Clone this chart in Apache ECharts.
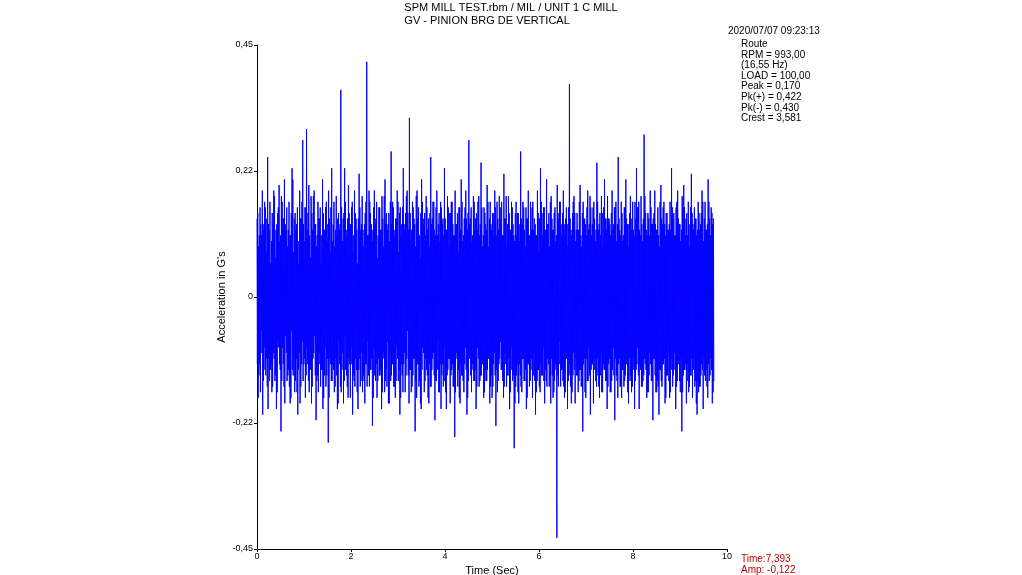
<!DOCTYPE html>
<html>
<head>
<meta charset="utf-8" />
<title>SPM waveform</title>
<script src="https://cdn.jsdelivr.net/npm/echarts@6/dist/echarts.min.js"></script>
<style>html,body{margin:0;background:#fff}#main{width:1022px;height:575px}</style>
</head>
<body>
<div id="main"></div>
<script>
// waveform amplitude in milli-G (first and second half)
var waveA = [
140,-180,90,-120,160,-60,110,-210,130,-90,170,-140,80,-160,250,-110,120,-130,60,-170,
150,-100,190,-150,70,-200,130,-80,160,-120,100,-240,180,-90,140,-160,210,-70,120,-150,
90,-130,170,-190,110,-60,230,-140,80,-170,150,-110,130,-210,60,-100,190,-160,140,-80,
280,-120,100,-180,160,-90,120,-150,200,-130,70,-190,150,-110,180,-70,130,-220,90,-140,
170,-100,140,-160,60,-130,210,-180,120,-90,160,-140,100,-260,190,-110,80,-150,230,-120,
130,-170,90,-110,180,-200,140,-80,120,-160,370,-130,100,-190,150,-70,170,-140,110,-180,
200,-120,130,-90,160,-210,80,-150,190,-110,140,-170,60,-130,220,-160,120,-100,180,-140,
90,-190,150,-120,420,-80,110,-160,170,-130,130,-230,100,-90,190,-150,140,-180,70,-110,
160,-140,120,-200,180,-100,90,-170,210,-130,150,-80,130,-190,100,-150,260,-120,170,-160,
110,-180,140,-90,190,-150,80,-210,160,-120,130,-170,230,-100,120,-140,180,-60,150,-190,
320,-130,100,-160,170,-110,140,-240,90,-180,190,-120,160,-150,70,-200,210,-90,130,-170,
150,-110,180,-140,120,-190,90,-160,250,-130,140,-100,170,-220,110,-150,190,-80,130,-170,
100,-200,160,-120,140,-90,230,-170,120,-140,180,-110,90,-190,150,-130,170,-160,110,-250,
190,-100,130,-160,80,-180,160,-120,210,-140,100,-170,140,-90,190,-210,120,-150,280,-110,
140,-170,100,-130,180,-150,120,-200,150,-90,170,-160,110,-140,240,-120,90,-180,160,-130
];
var waveB = [
130,-150,200,-110,90,-190,170,-140,120,-160,150,-100,190,-230,110,-170,140,-120,180,-80,
160,-130,110,-180,220,-100,140,-160,90,-140,180,-200,120,-90,170,-150,130,-270,100,-160,
170,-120,150,-190,100,-140,260,-170,130,-110,160,-150,90,-200,140,-120,190,-160,110,-130,
120,-180,170,-100,140,-210,110,-150,190,-130,80,-170,230,-140,150,-90,160,-190,120,-150,
210,-110,130,-160,90,-190,180,-140,120,-170,150,-120,100,-430,200,-160,140,-80,170,-130,
110,-150,190,-180,130,-110,160,-200,90,-140,380,-160,120,-170,150,-100,180,-190,100,-140,
150,-170,120,-130,200,-160,90,-240,170,-110,140,-180,110,-150,190,-90,130,-210,160,-120,
130,-190,170,-110,100,-160,240,-140,120,-180,150,-100,180,-170,90,-130,210,-150,140,-200,
180,-120,140,-170,110,-150,190,-90,130,-220,160,-140,100,-180,250,-110,120,-160,170,-130,
100,-160,160,-140,210,-120,130,-190,90,-150,180,-170,140,-110,120,-200,170,-130,230,-90,
160,-200,120,-130,180,-160,100,-140,290,-120,150,-180,110,-170,140,-100,190,-150,130,-220,
140,-110,190,-170,120,-150,160,-210,90,-130,200,-160,130,-120,170,-190,110,-140,150,-100,
120,-180,170,-130,230,-160,140,-100,110,-200,160,-150,190,-120,130,-170,100,-240,180,-140,
200,-130,110,-190,150,-120,170,-160,90,-140,220,-180,130,-110,160,-150,140,-210,120,-170,
150,-160,130,-120,190,-200,100,-140,170,-130,120,-180,210,-150,140,-110,160,-190,130,-150
];
// extra fine detail between the samples above, same halves
var detailA = [
-120,150,-140,110,-170,130,-100,190,-150,120,-130,160,-110,140,-200,130,-150,170,-120,100,
-160,130,-110,180,-140,120,-170,150,-90,200,-130,110,-150,170,-120,140,-190,130,-100,160,
-140,120,-160,110,-180,150,-130,210,-110,140,-150,120,-170,160,-130,100,-190,140,-120,170,
-150,130,-110,160,-140,300,-120,150,-170,110,-130,180,-160,120,-100,190,-140,130,-150,110,
-170,140,-120,160,-130,110,-200,150,-140,120,-160,170,-110,130,-180,140,-120,160,-150,100,
-130,170,-160,120,-140,110,-190,150,-120,130,-170,160,-100,140,-150,230,-130,120,-160,140,
-110,150,-180,130,-120,170,-140,110,-160,150,-130,120,-200,140,-110,160,-150,130,-170,120,
-150,130,-120,170,-160,110,-140,190,-130,150,-110,120,-180,160,-140,130,-120,170,-150,110,
-140,160,-130,120,-170,140,-110,180,-150,130,-160,120,-190,150,-100,170,-140,130,-120,160,
-160,120,-150,140,-110,170,-130,150,-180,110,-140,160,-120,130,-170,150,-110,190,-140,120,
-130,150,-170,120,-140,160,-110,130,-150,180,-120,140,-160,110,-190,150,-130,170,-100,140,
-150,110,-130,160,-180,140,-120,150,-160,130,-110,170,-140,120,-150,160,-130,110,-170,150,
-120,170,-140,130,-160,110,-150,140,-200,120,-130,160,-110,150,-140,170,-120,130,-160,110,
-170,130,-110,150,-130,160,-190,120,-140,170,-150,110,-120,160,-130,140,-180,150,-110,130,
-140,160,-120,110,-150,170,-130,140,-160,120,-110,180,-150,130,-140,160,-120,110,-170,150
];
var detailB = [
-150,120,-130,170,-110,140,-160,130,-180,150,-120,110,-140,160,-130,170,-150,120,-110,140,
-130,170,-150,110,-160,140,-120,180,-140,130,-110,150,-170,120,-130,160,-140,110,-190,150,
-140,110,-170,150,-120,130,-160,140,-110,170,-150,120,-130,160,-180,140,-120,110,-150,170,
-110,160,-140,120,-150,130,-170,110,-130,150,-160,140,-120,170,-140,110,-150,160,-130,120,
-160,130,-120,150,-140,170,-110,140,-180,120,-150,160,-130,110,-140,150,-120,170,-160,130,
-130,150,-160,120,-170,140,-110,130,-150,160,-120,140,-190,110,-140,170,-130,150,-110,120,
-140,120,-150,170,-130,110,-160,150,-120,140,-170,130,-110,160,-150,120,-140,180,-130,110,
-120,160,-130,140,-150,120,-110,170,-160,130,-140,110,-170,150,-120,160,-130,140,-150,120,
-160,140,-110,130,-170,150,-130,120,-140,160,-110,170,-150,130,-120,140,-160,110,-180,150,
-130,110,-150,160,-120,140,-170,130,-110,150,-140,120,-160,170,-130,110,-150,140,-120,160,
-140,170,-120,110,-160,130,-150,140,-110,180,-130,120,-170,150,-140,110,-120,160,-150,130,
-110,150,-140,130,-170,120,-160,110,-130,170,-150,140,-120,160,-110,130,-180,150,-140,120,
-150,130,-170,120,-110,160,-140,150,-130,110,-160,170,-120,140,-150,130,-110,120,-170,160,
-130,160,-120,140,-150,110,-170,130,-140,160,-110,150,-130,120,-160,140,-190,110,-150,170,
-160,120,-140,150,-130,170,-110,140,-150,120,-160,130,-120,170,-140,110,-130,150,-170,140
];
var duration = 9.72;
var titleLines = ['SPM MILL TEST.rbm / MIL / UNIT 1 C MILL', 'GV - PINION BRG DE VERTICAL'];
var infoDate = '2020/07/07 09:23:13';
var infoLines = ['Route', 'RPM = 993,00', '(16,55 Hz)', 'LOAD = 100,00',
  'Peak = 0,170', 'Pk(+) = 0,422', 'Pk(-) = 0,430', 'Crest = 3,581'];
var cursorLines = ['Time:7,393', 'Amp: -0,122'];

// interleave main samples with detail samples so that signs keep alternating
var mainVals = waveA.concat(waveB);
var detailVals = detailA.concat(detailB);
var wave = [];
mainVals.forEach(function (v, i) {
  if (i % 2 === 0) { wave.push(v); wave.push(detailVals[i]); }
  else { wave.push(detailVals[i]); wave.push(v); }
});
var pts = wave.map(function (v, i) { return [i * duration / (wave.length - 1), v / 1000]; });
var fmt = function (v) {
  var t = Math.trunc(v * 100) / 100;
  if (t === 0) return '0';
  return t.toFixed(2).replace('.', ',');
};
var chart = echarts.init(document.getElementById('main'));
var font = 'Liberation Sans, Arial, sans-serif';
chart.setOption({
  animation: false,
  textStyle: { fontFamily: font },
  grid: { left: 257, right: 295, top: 45, bottom: 26, containLabel: false, outerBoundsMode: 'none' },
  xAxis: {
    type: 'value', min: 0, max: 10, interval: 2,
    name: 'Time (Sec)', nameLocation: 'middle', nameGap: 14,
    nameTextStyle: { fontSize: 11, color: '#000' },
    axisLine: { onZero: false, lineStyle: { color: '#000' } },
    axisTick: { length: 3, lineStyle: { color: '#000' } },
    axisLabel: { fontSize: 9, color: '#000', margin: 3 },
    splitLine: { show: false }
  },
  yAxis: {
    type: 'value', min: -0.45, max: 0.45, interval: 0.225,
    name: "Acceleration in G's", nameLocation: 'middle', nameGap: 30,
    nameTextStyle: { fontSize: 11, color: '#000' },
    axisLine: { show: true, onZero: false, lineStyle: { color: '#000' } },
    axisTick: { length: 3, lineStyle: { color: '#000' } },
    axisLabel: { fontSize: 9, color: '#000', margin: 4, formatter: fmt },
    splitLine: { show: false }
  },
  series: [{
    type: 'line', data: pts, showSymbol: false, sampling: null,
    lineStyle: { color: '#0000ff', width: 1 }, itemStyle: { color: '#0000ff' }
  }],
  graphic: [
    { type: 'text', left: 'center', top: 1, style: { text: titleLines.join('\n'), font: '11px ' + font, fill: '#000', align: 'center', lineHeight: 13 } },
    { type: 'text', left: 728, top: 26, style: { text: infoDate, font: '10px ' + font, fill: '#000' } },
    { type: 'text', left: 741, top: 39, style: { text: infoLines.join('\n'), font: '10px ' + font, fill: '#000', lineHeight: 10.6 } },
    { type: 'text', left: 741, top: 554, style: { text: cursorLines.join('\n'), font: '10px ' + font, fill: '#c00000', lineHeight: 11 } }
  ]
});
</script>
</body>
</html>
